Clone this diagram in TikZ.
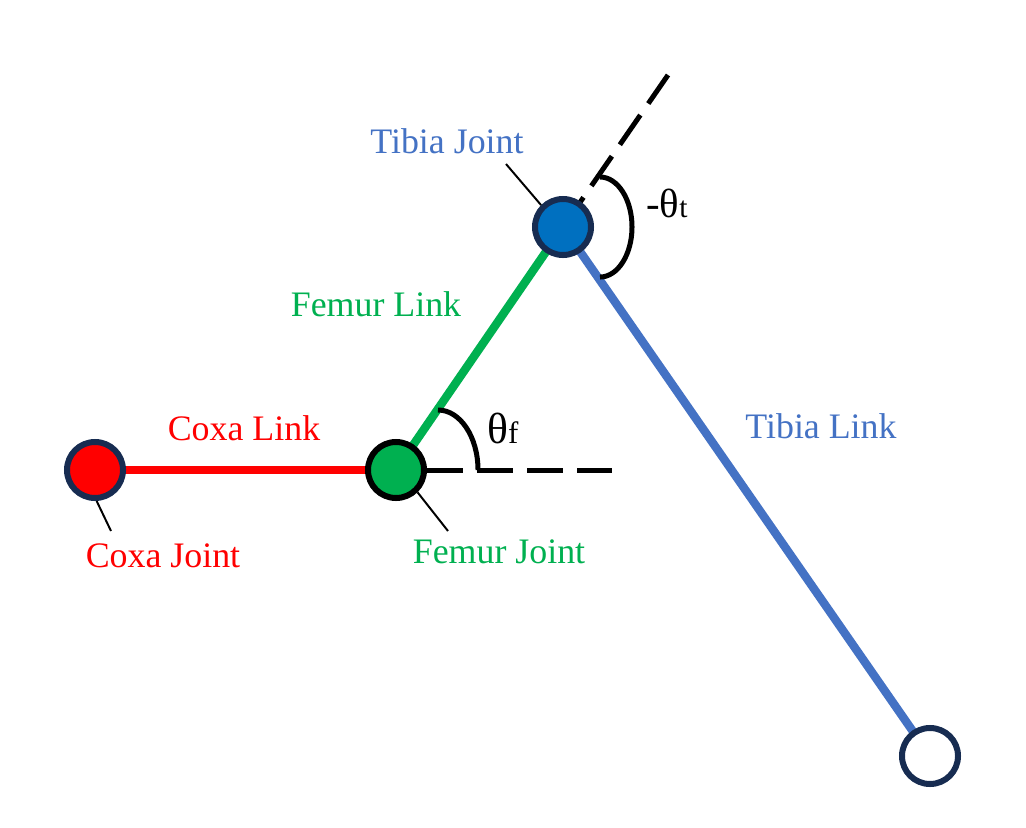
\documentclass[tikz,border=0pt]{standalone}
\usepackage{fontspec}
\setmainfont{Liberation Serif}
\usetikzlibrary{backgrounds}

\definecolor{jointNavy}{RGB}{23,44,81}
\definecolor{coxaRed}{RGB}{255,0,0}
\definecolor{femurGreen}{RGB}{0,176,80}
\definecolor{tibiaBlue}{RGB}{68,114,196}
\definecolor{tibiaFill}{RGB}{0,112,192}

\tikzset{
 joint/.style={circle, minimum size=1.4cm, inner sep=0pt, line width=0.15cm},
 link/.style={line width=0.21cm},
 refline/.style={line width=0.125cm, dash pattern=on 0.9cm off 0.35cm},
 anglearc/.style={line width=0.125cm},
 leader/.style={line width=1.4pt},
 lbl/.style={font=\fontsize{25.5}{30}\selectfont, anchor=base, inner sep=0pt},
}

\begin{document}
\begin{tikzpicture}[x=0.025cm, y=-0.025cm]
\useasboundingbox (0,0) rectangle (1026,828);

% joints
\node[joint, draw=jointNavy, fill=coxaRed] (coxa) at (95,470) {};
\node[joint, draw=black, fill=femurGreen] (femur) at (396,470) {};
\node[joint, draw=jointNavy, fill=tibiaFill] (tibia) at (563,227) {};
\node[joint, draw=jointNavy, fill=white] (foot) at (930,756) {};

\coordinate (femurRef) at (612,470);
\coordinate (tibiaRef) at (668,75);

% links
\begin{scope}[on background layer]
\draw[link, coxaRed] (coxa.center) -- (femur.center);
\draw[link, femurGreen] (femur.center) -- (tibia.center);
\draw[link, tibiaBlue] (tibia.center) -- (foot.center);
\draw[refline] (tibia.center) -- (tibiaRef);
\end{scope}
\draw[refline] (femur.east) -- (femurRef);

% angles
\draw[anglearc] (438,410) arc[start angle=90, end angle=0, x radius=1cm, y radius=1.5cm];
\draw[anglearc] (600,177) arc[start angle=90, end angle=-90, x radius=0.8cm, y radius=1.25cm];
\node[anchor=base west, inner sep=0pt] (thetaF) at (487,443)
 {\fontsize{31}{36}\selectfont θ\fontsize{22}{26}\selectfont f};
\node[anchor=base west, inner sep=0pt] (thetaT) at (646,217)
 {\fontsize{29}{34}\selectfont -θ\fontsize{21}{25}\selectfont t};

% labels
\node[lbl, coxaRed] (coxaLinkLbl) at (244,440) {Coxa Link};
\node[lbl, coxaRed] (coxaJointLbl) at (163,567) {Coxa Joint};
\node[lbl, femurGreen] (femurLinkLbl) at (376,316) {Femur Link};
\node[lbl, femurGreen] (femurJointLbl) at (499,563) {Femur Joint};
\node[lbl, tibiaBlue] (tibiaJointLbl) at (447,153) {Tibia Joint};
\node[lbl, tibiaBlue] (tibiaLinkLbl) at (821,438) {Tibia Link};

\coordinate (coxaTag) at (111,531);
\coordinate (femurTag) at (448,531);
\coordinate (tibiaTag) at (506,164);
\draw[leader] (coxa.-87) -- (coxaTag);
\draw[leader] (femur.-46) -- (femurTag);
\draw[leader] (tibia.135) -- (tibiaTag);
\end{tikzpicture}
\end{document}
